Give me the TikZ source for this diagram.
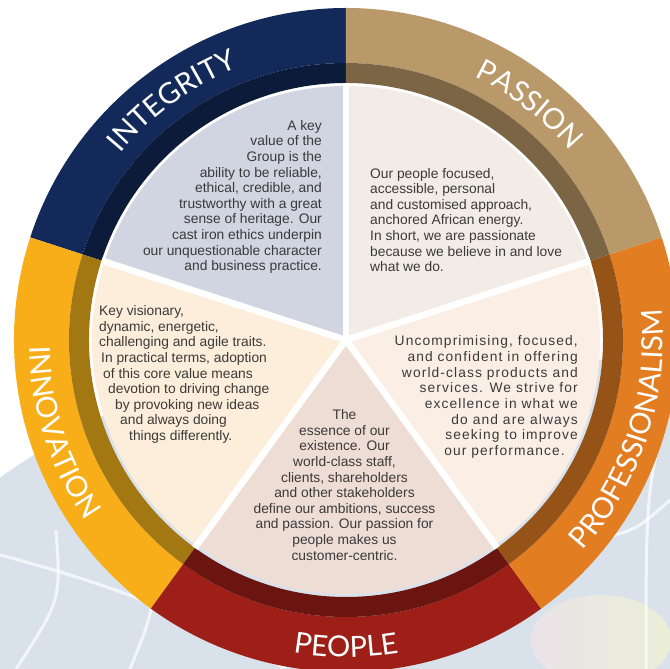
\documentclass[tikz,border=0pt]{standalone}
\usepackage{fontspec}
\setmainfont{Liberation Sans}
\newfontfamily\ringfont{Lato}
\usepackage{tikz}
\usetikzlibrary{decorations.text}
\definecolor{intRing}{HTML}{13295A}
\definecolor{intBand}{HTML}{0D1B3A}
\definecolor{intWedge}{HTML}{D1D4E1}
\definecolor{pasRing}{HTML}{B9996A}
\definecolor{pasBand}{HTML}{7B6545}
\definecolor{pasWedge}{HTML}{F3ECE6}
\definecolor{proRing}{HTML}{E37D22}
\definecolor{proBand}{HTML}{965317}
\definecolor{proWedge}{HTML}{FBEFE5}
\definecolor{peoRing}{HTML}{9D1F17}
\definecolor{peoBand}{HTML}{6A150F}
\definecolor{peoWedge}{HTML}{EEDDD4}
\definecolor{innRing}{HTML}{F7AE19}
\definecolor{innBand}{HTML}{A37813}
\definecolor{innWedge}{HTML}{FDEEDB}
\definecolor{txtGrey}{HTML}{3A3A3A}
\definecolor{globe}{HTML}{D9E2EB}
\newcommand{\rOut}{332}
\newcommand{\rBand}{277}
\newcommand{\rIn}{257}
\newcommand{\rWedge}{254}
\newcommand{\labelfont}{\ringfont\fontsize{29}{30}\selectfont}
\tikzset{
  valuetext/.style={font=\fontsize{13.8}{15.6}\selectfont, text=txtGrey, inner sep=0pt},
  ringlabel/.style={decorate, decoration={text along path, text align=center,
      text color=white, text={|\labelfont|#1}}},
  globeline/.style={white, line width=3, opacity=.7}
}

\begin{document}
\begin{tikzpicture}[x=1pt,y=1pt]
  \useasboundingbox (-346,-329) rectangle (324,340);
  \coordinate (hub) at (0,0);
  \begin{scope}
    \clip (-346,-329) rectangle (324,340);
    \fill[globe] (84,-740) circle[radius=740];
    \shade[left color=pink!40, right color=yellow!25, opacity=.45] (255,-300) ellipse[x radius=70, y radius=45];
    \draw[globeline] (-346,-215) .. controls (-250,-240) and (-150,-275) .. (-60,-329);
    \draw[globeline] (-290,-190) .. controls (-285,-260) .. (-330,-329);
    \draw[globeline] (-190,-250) .. controls (-200,-290) .. (-216,-329);
    \draw[globeline] (324,-160) .. controls (290,-190) .. (250,-200);
    \draw[globeline] (324,-60) .. controls (300,-150) .. (300,-329);
  \end{scope}

  \foreach \a/\rc/\bc/\wc [evaluate=\a as \b using \a+72] in
      {90/intRing/intBand/intWedge, 162/innRing/innBand/innWedge,
       234/peoRing/peoBand/peoWedge, 306/proRing/proBand/proWedge,
       18/pasRing/pasBand/pasWedge} {
    \fill[\rc] (\a:\rOut) arc[start angle=\a, end angle=\b, radius=\rOut]
      -- (\b:\rBand) arc[start angle=\b, end angle=\a, radius=\rBand] -- cycle;
    \fill[\bc] (\a:\rBand) arc[start angle=\a, end angle=\b, radius=\rBand]
      -- (\b:\rIn) arc[start angle=\b, end angle=\a, radius=\rIn] -- cycle;
    \fill[\wc] (hub) -- (\a:\rWedge) arc[start angle=\a, end angle=\b, radius=\rWedge] -- cycle;
  }
  \foreach \a in {18,90,162,234,306}
    \draw[white, line width=6.5] (hub) -- (\a:\rIn);

  \path[ringlabel=INTEGRITY] (162:293) arc[start angle=162, end angle=90, radius=293];
  \path[ringlabel=PASSION] (90:293) arc[start angle=90, end angle=14, radius=293];
  \path[ringlabel=PROFESSIONALISM] (306:317) arc[start angle=306, end angle=378, radius=317];
  \path[ringlabel=PEOPLE] (234:317) arc[start angle=234, end angle=306, radius=317];
  \path[ringlabel=INNOVATION] (162:317) arc[start angle=162, end angle=234, radius=317];

  \node[valuetext, align=right, anchor=east] (integrityText) at (-24,143)
    {A key\\ value of the\\ Group is the\\ ability to be reliable,\\
     ethical, credible, and\\ trustworthy with a great\\ sense of heritage. Our\\
     cast iron ethics underpin\\ our unquestionable character\\ and business practice.};
  \node[valuetext, align=left, anchor=west] (passionText) at (24,120)
    {Our people focused,\\ accessible, personal\\ and customised approach,\\
     anchored African energy.\\ In short, we are passionate\\
     because we believe in and love\\ what we do.};
  \node[valuetext, align=left, anchor=west] (innovationText) at (-247,-34.5)
    {Key visionary,\\ dynamic, energetic,\\ challenging and agile traits.\\
     \hspace*{2pt}In practical terms, adoption\\ \hspace*{4pt}of this core value means\\
     \hspace*{9pt}devotion to driving change\\ \hspace*{16pt}by provoking new ideas\\
     \hspace*{21pt}and always doing\\ \hspace*{30pt}things differently.};
  \node[valuetext, align=right, anchor=east,
        font=\fontsize{13.8}{15.7}\selectfont\addfontfeature{LetterSpace=8}] (professionalismText) at (232,-57)
    {Uncomprimising, focused,\\ and confident in offering\\ world-class products and\\
     services. We strive for\\ excellence in what we\hspace*{1pt}\\
     do and are always\hspace*{10pt}\\ seeking to improve\hspace*{10pt}\\
     our performance.\hspace*{13pt}};
  \node[valuetext, align=center] (peopleText) at (-1.5,-145)
    {The\\ essence of our\\ existence. Our\\ world-class staff,\\ clients, shareholders\\
     and other stakeholders\\ define our ambitions, success\\ and passion. Our passion for\\
     people makes us\\ customer-centric.};
\end{tikzpicture}
\end{document}
